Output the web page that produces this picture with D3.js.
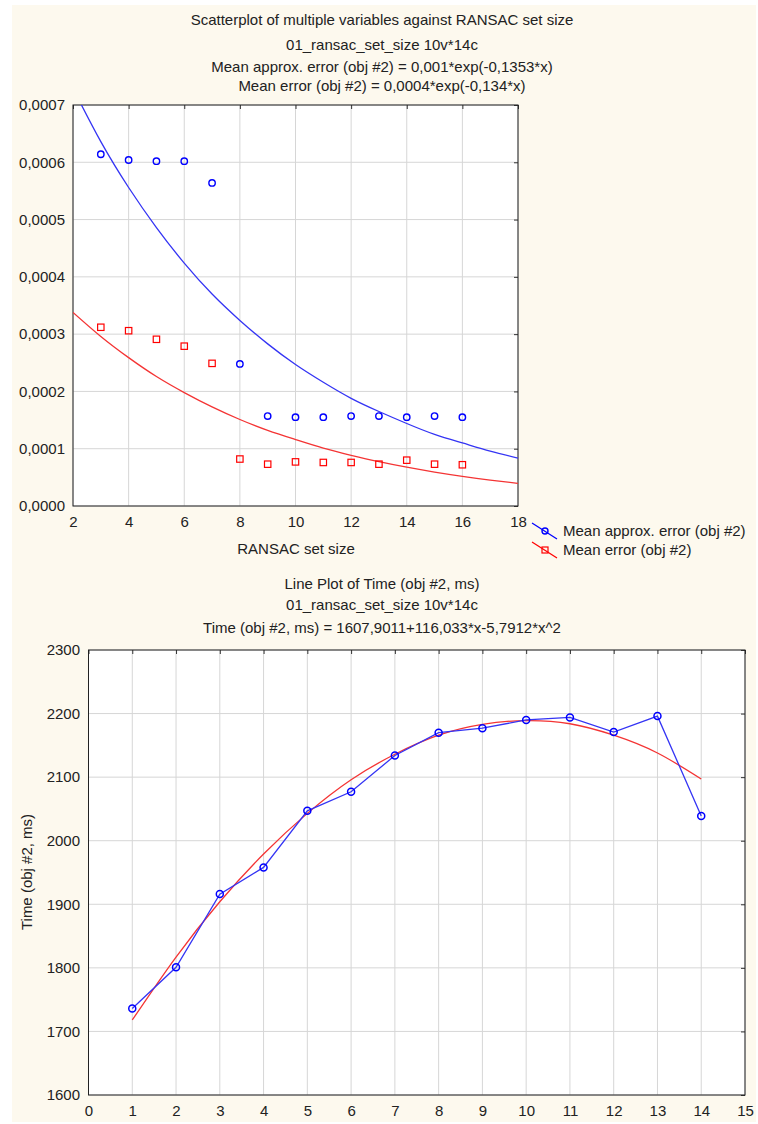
<!DOCTYPE html>
<html>
<head>
<meta charset="utf-8">
<script src="https://cdnjs.cloudflare.com/ajax/libs/d3/7.8.5/d3.min.js"></script>
<style>
body { margin: 0; background: #fff; }
svg { display: block; }
text { font-family: "Liberation Sans", Arial, sans-serif; fill: #222; }
</style>
</head>
<body>
<svg id="chart" width="758" height="1124"></svg>
<script>
// ---- data: top scatterplot ----
const setSize = [3, 4, 5, 6, 7, 8, 9, 10, 11, 12, 13, 14, 15, 16];
const approxErr = [0.000614, 0.000604, 0.000602, 0.000602, 0.000564, 0.000248, 0.000157, 0.000155,
                   0.000155, 0.000157, 0.000157, 0.000155, 0.000157, 0.000155];
const meanErr = [0.000312, 0.000306, 0.000291, 0.000279, 0.000249, 0.000082, 0.000073, 0.000077,
                 0.000076, 0.000076, 0.000073, 0.000080, 0.000073, 0.000072];
// fitted curves at each whole x
const fitX = [2, 3, 4, 5, 6, 7, 8, 9, 10, 11, 12, 13, 14, 15, 16, 17, 18];
const approxFit = [0.000729, 0.000636, 0.000556, 0.000486, 0.000424, 0.000370, 0.000324, 0.000283, 0.000247,
                   0.000216, 0.000188, 0.000165, 0.000144, 0.000125, 0.000110, 0.0000958, 0.0000837];
const errFit = [0.000338, 0.000296, 0.000259, 0.000226, 0.000198, 0.000173, 0.000151, 0.000132, 0.000116,
                0.000101, 0.0000885, 0.0000774, 0.0000677, 0.0000592, 0.0000518, 0.0000453, 0.0000396];
const topXTicks = [2, 4, 6, 8, 10, 12, 14, 16, 18];
const topYTicks = [0, 0.0001, 0.0002, 0.0003, 0.0004, 0.0005, 0.0006, 0.0007];
const topTitle = ["Scatterplot of multiple variables against RANSAC set size",
                  "01_ransac_set_size 10v*14c",
                  "Mean approx. error (obj #2) = 0,001*exp(-0,1353*x)",
                  "Mean error (obj #2) = 0,0004*exp(-0,134*x)"];
const legendNames = ["Mean approx. error (obj #2)", "Mean error (obj #2)"];

// ---- data: bottom line plot ----
const caseNo = [1, 2, 3, 4, 5, 6, 7, 8, 9, 10, 11, 12, 13, 14];
const timeMs = [1736, 1801, 1916, 1958, 2047, 2077, 2134, 2170, 2177, 2190, 2194, 2171, 2196, 2039];
const timeFit = [1718, 1817, 1904, 1979, 2043, 2096, 2136, 2166, 2183, 2189, 2184, 2166, 2138, 2097];
const botXTicks = [0, 1, 2, 3, 4, 5, 6, 7, 8, 9, 10, 11, 12, 13, 14, 15];
const botYTicks = [1600, 1700, 1800, 1900, 2000, 2100, 2200, 2300];
const botTitle = ["Line Plot of Time (obj #2, ms)",
                  "01_ransac_set_size 10v*14c",
                  "Time (obj #2, ms) = 1607,9011+116,033*x-5,7912*x^2"];

const svg = d3.select("#chart");
const blue = "#0000ff", red = "#ff0000";
const gridCol = "#d6d6d6";
const fs = 15;
const comma = d3.formatLocale({decimal: ",", thousands: "", grouping: [3], currency: ["", ""]});

// cream page background
svg.append("rect").attr("x", 12).attr("y", 5).attr("width", 744).attr("height", 1117).attr("fill", "#fdf9ee");

// draws frame, grid, inner ticks and labels for one plot
function frame(g, x, y, xt, yt, yfmt, xpad, ypad) {
  const [x0, x1] = x.range(), [y0, y1] = y.range();
  g.append("rect").attr("x", x0).attr("y", y1).attr("width", x1 - x0).attr("height", y0 - y1).attr("fill", "#fff");
  g.append("g").selectAll("line").data(xt).join("line")
    .attr("x1", d => x(d)).attr("x2", d => x(d)).attr("y1", y1).attr("y2", y0)
    .attr("stroke", gridCol).attr("stroke-width", 1);
  g.append("g").selectAll("line").data(yt).join("line")
    .attr("y1", d => y(d)).attr("y2", d => y(d)).attr("x1", x0).attr("x2", x1)
    .attr("stroke", gridCol).attr("stroke-width", 1);
  // inner ticks on top and right
  g.append("g").attr("transform", `translate(0,${y1})`)
    .call(d3.axisTop(x).tickValues(xt).tickSize(-4).tickFormat(""))
    .call(s => s.select(".domain").remove());
  g.append("g").attr("transform", `translate(${x1},0)`)
    .call(d3.axisRight(y).tickValues(yt).tickSize(-4).tickFormat(""))
    .call(s => s.select(".domain").remove());
  g.selectAll(".tick line").attr("stroke", "#333");
  // labels
  const xa = g.append("g").attr("transform", `translate(0,${y0})`)
    .call(d3.axisBottom(x).tickValues(xt).tickSize(0).tickPadding(xpad));
  const ya = g.append("g").attr("transform", `translate(${x0},0)`)
    .call(d3.axisLeft(y).tickValues(yt).tickSize(0).tickPadding(ypad).tickFormat(yfmt));
  [xa, ya].forEach(a => {
    a.select(".domain").remove();
    a.selectAll("text").attr("font-size", fs).attr("font-family", null).attr("fill", "#222");
  });
  g.append("rect").attr("x", x0).attr("y", y1).attr("width", x1 - x0).attr("height", y0 - y1)
    .attr("fill", "none").attr("stroke", "#222").attr("stroke-width", 1);
}

// ---------- top chart ----------
const xTop = d3.scaleLinear().domain([2, 18]).range([73, 518]);
const yTop = d3.scaleLinear().domain([0, 0.0007]).range([506, 105]);
const topG = svg.append("g");
frame(topG, xTop, yTop, topXTicks, topYTicks, comma.format(".4f"), 10, 8);

topG.append("g").selectAll("text").data(topTitle).join("text")
  .attr("x", 382).attr("y", (d, i) => [25, 50, 72, 91][i])
  .attr("text-anchor", "middle").attr("font-size", fs).text(d => d);

topG.append("text").attr("x", 296).attr("y", 554).attr("text-anchor", "middle")
  .attr("font-size", fs).text("RANSAC set size");

topG.append("clipPath").attr("id", "clipTop").append("rect")
  .attr("x", 73).attr("y", 105).attr("width", 445).attr("height", 401);

const fitLine = d3.line().x((d, i) => xTop(fitX[i])).y(d => yTop(d)).curve(d3.curveNatural);
topG.append("path").datum(approxFit).attr("d", fitLine).attr("clip-path", "url(#clipTop)")
  .attr("fill", "none").attr("stroke", "#3434f4").attr("stroke-width", 1.3);
topG.append("path").datum(errFit).attr("d", fitLine).attr("clip-path", "url(#clipTop)")
  .attr("fill", "none").attr("stroke", "#f43434").attr("stroke-width", 1.3);

topG.append("g").selectAll("circle").data(approxErr).join("circle")
  .attr("cx", (d, i) => xTop(setSize[i])).attr("cy", d => yTop(d)).attr("r", 3.2)
  .attr("fill", "none").attr("stroke", blue).attr("stroke-width", 1.4);
topG.append("g").selectAll("rect").data(meanErr).join("rect")
  .attr("x", (d, i) => xTop(setSize[i]) - 3.2).attr("y", d => yTop(d) - 3.2)
  .attr("width", 6.4).attr("height", 6.4)
  .attr("fill", "none").attr("stroke", red).attr("stroke-width", 1.2);

// legend (diagonal line with marker, Statistica style)
const leg = topG.append("g");
legendNames.forEach((name, i) => {
  const gy = 531 + i * 19;
  const col = i === 0 ? blue : red;
  leg.append("line").attr("x1", 532).attr("y1", gy - 8).attr("x2", 557).attr("y2", gy + 8)
    .attr("stroke", col).attr("stroke-width", 1.2);
  if (i === 0) {
    leg.append("circle").attr("cx", 545).attr("cy", gy).attr("r", 3)
      .attr("fill", "none").attr("stroke", col).attr("stroke-width", 1.4);
  } else {
    leg.append("rect").attr("x", 542).attr("y", gy - 3).attr("width", 6).attr("height", 6)
      .attr("fill", "none").attr("stroke", col).attr("stroke-width", 1.2);
  }
  leg.append("text").attr("x", 563).attr("y", gy + 5).attr("font-size", fs).text(name);
});

// ---------- bottom chart ----------
const xBot = d3.scaleLinear().domain([0, 15]).range([88.5, 745]);
const yBot = d3.scaleLinear().domain([1600, 2300]).range([1095, 650]);
const botG = svg.append("g");
frame(botG, xBot, yBot, botXTicks, botYTicks, d3.format("d"), 10, 8.5);

botG.append("g").selectAll("text").data(botTitle).join("text")
  .attr("x", 382).attr("y", (d, i) => [589, 610, 633][i])
  .attr("text-anchor", "middle").attr("font-size", fs).text(d => d);

botG.append("text").attr("transform", "translate(32,872) rotate(-90)")
  .attr("text-anchor", "middle").attr("font-size", fs).text("Time (obj #2, ms)");

botG.append("path").datum(timeFit)
  .attr("d", d3.line().x((d, i) => xBot(caseNo[i])).y(d => yBot(d)).curve(d3.curveNatural))
  .attr("fill", "none").attr("stroke", "#f43434").attr("stroke-width", 1.3);
botG.append("path").datum(timeMs)
  .attr("d", d3.line().x((d, i) => xBot(caseNo[i])).y(d => yBot(d)))
  .attr("fill", "none").attr("stroke", "#3434f4").attr("stroke-width", 1.3);
botG.append("g").selectAll("circle").data(timeMs).join("circle")
  .attr("cx", (d, i) => xBot(caseNo[i])).attr("cy", d => yBot(d)).attr("r", 3.5)
  .attr("fill", "none").attr("stroke", blue).attr("stroke-width", 1.5);
</script>
</body>
</html>
